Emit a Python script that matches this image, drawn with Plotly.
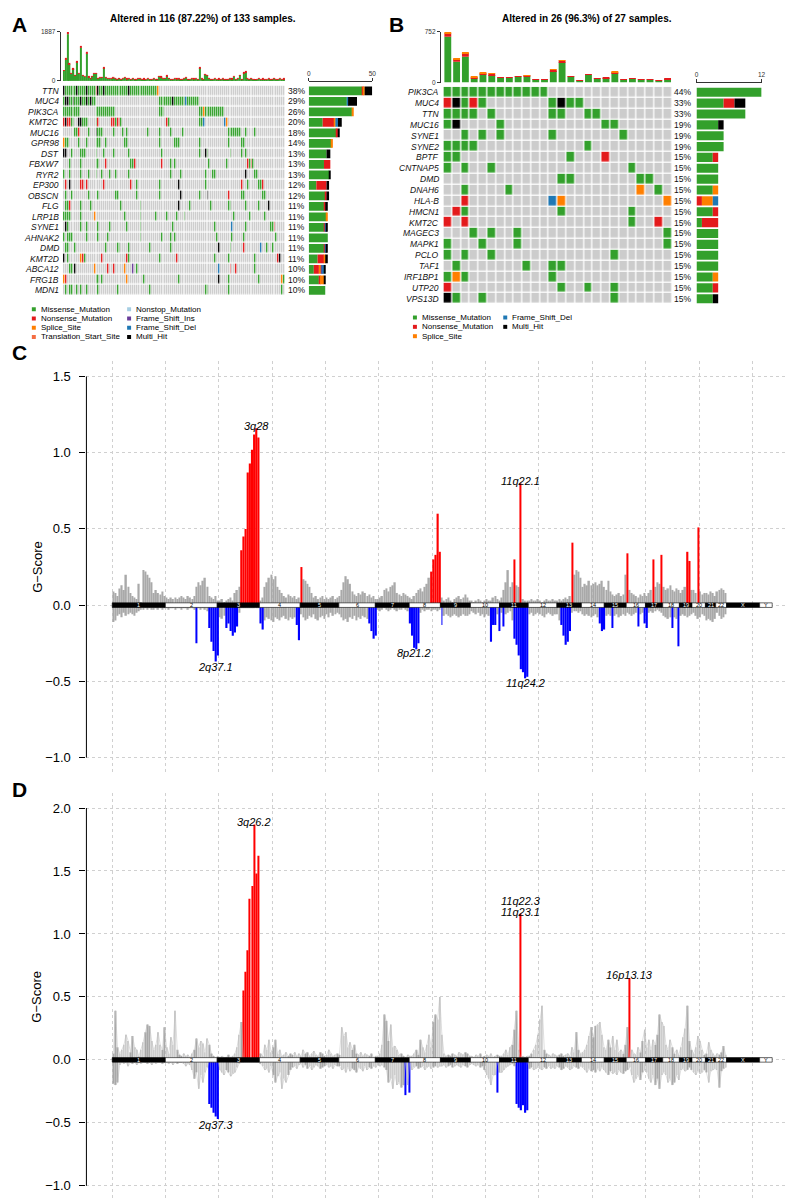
import plotly.graph_objects as go

W, H = 796, 1199
FONT = "Liberation Sans, Arial, sans-serif"
BG_CELL = "#CCCCCC"
GRAY = "#A9A9A9"

# maftools variant classes / colours
vc_names = ["Missense_Mutation", "Nonsense_Mutation", "Splice_Site", "Translation_Start_Site",
            "Nonstop_Mutation", "Frame_Shift_Ins", "Frame_Shift_Del", "Multi_Hit"]
vc_codes = "MNSTOIDH"
vc_colors = ["#33A02C", "#E31A1C", "#FF7F00", "#F46D43", "#A6CEE3", "#6A3D9A", "#1F78B4", "#000000"]

# ---------------- panel A : 116 altered of 133 ----------------
genes_A = ["TTN", "MUC4", "PIK3CA", "KMT2C", "MUC16", "GPR98", "DST", "FBXW7", "RYR2", "EP300",
           "OBSCN", "FLG", "LRP1B", "SYNE1", "AHNAK2", "DMD", "KMT2D", "ABCA12", "FRG1B", "MDN1"]
# columns mutated per gene ("a-b" range, trailing letter = class, default Missense)
muts_A = [
    "0H 1-6 7H 8-11 12H 13-16 17N 18H 19-20 21H 22-33 34H 35-48 49S",
    "0 1-2H 3-4 5H 6-8 9H 10-11 12H 13 14H 15-16 50-56 57H 58-63 64D 65-70",
    "0-8 17-26 50-52 71-72 73S 74-83",
    "0N 1H 2-3N 4-5 8-9H 10-12 17 18N 25-26N 27 28-29N 30 54N 55 71-72 73D 84D 85S",
    "6-7 8N 13 17H 18-20 26 31 33 44 50 56 62 86-92 95 100",
    "0S 1-2 8 12 17-19 22 32-33 50 58-60 71 86 93-94",
    "0-1H 4 9-11 17 21 26 34 51 71 74H 75 87 93 95",
    "3 9 17-18 22N 35-36 37N 51N 56 58 76 85 96N 97 98N 99",
    "0 3 9 13 17 20 24 27 34 56 61 74 78-79 95H 100-101",
    "1N 3H 9-10N 12N 21N 35N 38 50 60H 74 93N 96 102-103 104N",
    "1 4 13 18 27-28 38 50 61H 71 75H 86N 93-94 104-105",
    "1-2 3N 9 14 30 40 60H 66 77 86-87 95 102 107H",
    "0-3 9 16S 32 40 48 54 59 63 89 97 105",
    "1H 2 9 12 18 24 33 40 57 79 88D 95 108-109 110N",
    "0 2-4 12 18 23 40 51 56 58 80 88 94 111",
    "1-2 6 22 28-29 34 45 56 81H 87 94N 103D 106 109",
    "0H 2 9S 10N 11 20N 33N 34 50 59N 79 86 100 112N 113H",
    "3-4 6H 16S 23N 26N 32S 36I 38 81D 87N 90N 100",
    "0S 1N 17-18 20 33S 42 60 81H 86 102 114S 115",
    "1 3-4 7 9 12 18 28 45 74-75 86 114",
]
n_samples_A, n_cols_A = 133, 116
tmb_A_missense = [
    400, 830, 1800, 640, 275, 460, 218, 725, 275, 1280, 218, 156, 1060, 152, 104, 180, 275, 290, 104, 124, 142, 495, 133, 95, 85,
    80, 120, 95, 70, 110, 60, 85, 130, 75, 90, 65, 100, 70, 55, 80, 95, 60, 75, 50, 85, 70, 60, 90, 55, 65,
    170, 150, 80, 95, 190, 110, 70, 60, 85, 75, 100, 65, 55, 80, 120, 70, 60, 90, 75, 85, 65, 500, 95, 70, 245,
    220, 90, 70, 60, 85, 55, 75, 65, 80, 60, 70, 55, 90, 75, 155, 60, 85, 220, 70, 305, 340, 80, 65, 90, 55,
    70, 60, 85, 55, 75, 65, 50, 80, 60, 70, 95, 55, 65, 85, 60, 75]
tmb_A_nonsense = [
    20, 40, 87, 35, 15, 25, 12, 40, 15, 60, 12, 9, 60, 8, 6, 10, 15, 15, 6, 6, 8, 25, 7, 5, 5,
    4, 6, 5, 4, 6, 3, 5, 7, 4, 5, 3, 5, 4, 3, 4, 5, 3, 4, 3, 5, 4, 3, 5, 3, 4,
    9, 8, 4, 5, 10, 6, 4, 3, 5, 4, 5, 3, 3, 4, 6, 4, 3, 5, 4, 5, 3, 20, 5, 4, 10,
    10, 5, 4, 3, 5, 3, 4, 3, 4, 3, 4, 3, 5, 4, 5, 3, 5, 10, 4, 15, 15, 4, 3, 5, 3,
    4, 3, 5, 3, 4, 3, 3, 4, 3, 4, 5, 3, 3, 5, 3, 4]

# ---------------- panel B : 26 altered of 27 ----------------
genes_B = ["PIK3CA", "MUC4", "TTN", "MUC16", "SYNE1", "SYNE2", "BPTF", "CNTNAP5", "DMD", "DNAH6",
           "HLA-B", "HMCN1", "KMT2C", "MAGEC3", "MAPK1", "PCLO", "TAF1", "IRF1BP1", "UTP20", "VPS13D"]
muts_B = [
    "0-11", "0N 1H 2 3N 4 12 13H 14-15", "0-3 5 12-13 16-17", "0 1H 6 18-19", "2 4 6 12 20",
    "0-3 16", "0-1 14 18N", "0 2 5 21", "13-14 22-23", "2 7 22S 24",
    "2N 12D 13S 25S", "1N 2 13 21", "0N 2N 21 24N", "3 5 8 25", "0 4 8 25",
    "0 2 5 19", "1 9 12-13", "0 1S 2 12", "0N 13 16 19", "0H 1 4 19",
]
n_samples_B, n_cols_B = 27, 26
tmb_B_missense = [678, 310, 383, 64, 123, 113, 70, 70, 90, 95, 50, 50, 172, 300, 90, 35, 115, 60, 68, 138, 45, 58, 45, 45, 30, 52]
tmb_B_nonsense = [55, 40, 55, 20, 20, 20, 4, 4, 8, 15, 4, 4, 20, 28, 8, 4, 8, 4, 6, 20, 4, 6, 4, 4, 4, 7]
tmb_B_splice = [19, 9, 9, 4, 4, 5, 0, 0, 0, 3, 0, 0, 5, 6, 0, 0, 0, 0, 0, 4, 0, 0, 0, 0, 0, 0]

# ---------------- GISTIC G-scores, 10 Mb bins along chr1..chr22 ----------------
chrom_names = [str(i) for i in range(1, 23)] + ["X", "Y"]
chrom_len_mb = [249, 243, 198, 191, 181, 171, 159, 146, 141, 136, 135, 134, 115, 107, 103, 90, 81, 78, 59, 63, 48, 51, 155, 59]
BIN_MB = 10

C_amp = [
    0.09, 0.08, 0.06, 0.11, 0.13, 0.10, 0.20, 0.12, 0.08, 0.06, 0.05, 0.04, 0.14, 0.02, 0.23, 0.22, 0.20, 0.18, 0.15, 0.08, 0.10, 0.08, 0.07, 0.09, 0.06,
    0.05, 0.04, 0.05, 0.04, 0.05, 0.04, 0.05, 0.06, 0.05, 0.04, 0.06, 0.05, 0.04, 0.06, 0.12, 0.15, 0.13, 0.16, 0.18, 0.12, 0.06, 0.05, 0.04, 0.06, 0.03,
    0.03, 0.04, 0.02, 0.03, 0.04, 0.05, 0.03, 0.08, 0.10, 0.12, 0.36, 0.45, 0.50, 0.87, 0.93, 1.02, 1.12, 1.16, 1.10,
    0.03, 0.05, 0.12, 0.15, 0.18, 0.20, 0.17, 0.19, 0.12, 0.10, 0.08, 0.06, 0.05, 0.07, 0.06, 0.05, 0.06, 0.04, 0.05, 0.25,
    0.17, 0.16, 0.14, 0.12, 0.08, 0.05, 0.06, 0.04, 0.05, 0.06, 0.04, 0.05, 0.04, 0.05, 0.06, 0.04, 0.05,
    0.06, 0.10, 0.15, 0.19, 0.17, 0.14, 0.09, 0.07, 0.06, 0.08, 0.07, 0.09, 0.08, 0.06, 0.07, 0.05, 0.06, 0.04,
    0.04, 0.05, 0.06, 0.10, 0.11, 0.09, 0.12, 0.13, 0.15, 0.08, 0.07, 0.06, 0.08, 0.07, 0.06, 0.05,
    0.04, 0.06, 0.08, 0.10, 0.11, 0.09, 0.12, 0.14, 0.18, 0.22, 0.30, 0.33, 0.60, 0.35,
    0.05, 0.03, 0.04, 0.05, 0.03, 0.02, 0.04, 0.05, 0.06, 0.04, 0.05, 0.07, 0.05, 0.03,
    0.03, 0.02, 0.03, 0.04, 0.03, 0.02, 0.03, 0.04, 0.03, 0.03, 0.05, 0.06, 0.04, 0.03,
    0.05, 0.10, 0.15, 0.23, 0.12, 0.15, 0.30, 0.13, 0.12, 0.80, 0.04, 0.03, 0.03,
    0.03, 0.04, 0.03, 0.03, 0.04, 0.03, 0.02, 0.03, 0.04, 0.03, 0.03, 0.04, 0.03,
    0.03, 0.04, 0.03, 0.04, 0.05, 0.04, 0.06, 0.41, 0.20, 0.23, 0.22, 0.18,
    0.12, 0.14, 0.13, 0.16, 0.13, 0.14, 0.15, 0.13, 0.14, 0.16, 0.12,
    0.10, 0.16, 0.09, 0.07, 0.06, 0.07, 0.08, 0.06, 0.07, 0.20,
    0.34, 0.10, 0.08, 0.07, 0.06, 0.05, 0.07, 0.06, 0.08,
    0.06, 0.08, 0.10, 0.30, 0.12, 0.15, 0.14, 0.33,
    0.12, 0.10, 0.11, 0.13, 0.10, 0.09, 0.11, 0.10,
    0.08, 0.10, 0.12, 0.35, 0.29, 0.10,
    0.10, 0.08, 0.51, 0.09, 0.07, 0.08,
    0.08, 0.07, 0.09, 0.08, 0.06,
    0.09, 0.10, 0.11, 0.10, 0.08]
C_del = [
    -0.11, -0.10, -0.07, -0.06, -0.08, -0.05, -0.07, -0.06, -0.05, -0.06, -0.07, -0.05, -0.04, -0.03, -0.03, -0.02, -0.03, -0.02, -0.03, -0.03, -0.02, -0.03, -0.02, -0.03, -0.02,
    -0.02, -0.03, -0.02, -0.02, -0.03, -0.02, -0.02, -0.03, -0.02, -0.02, -0.03, -0.02, -0.02, -0.03, -0.25, -0.02, -0.03, -0.02, -0.03, -0.04, -0.15, -0.24, -0.30, -0.37, -0.33,
    -0.08, -0.09, -0.07, -0.15, -0.12, -0.17, -0.20, -0.18, -0.14, -0.05, -0.02, -0.02, -0.02, -0.02, -0.02, -0.02, -0.02, -0.02, -0.02,
    -0.12, -0.16, -0.10, -0.08, -0.09, -0.10, -0.11, -0.08, -0.09, -0.10, -0.08, -0.07, -0.09, -0.10, -0.08, -0.09, -0.08, -0.13, -0.23, -0.06,
    -0.08, -0.10, -0.09, -0.07, -0.08, -0.06, -0.09, -0.10, -0.08, -0.07, -0.09, -0.06, -0.08, -0.05, -0.07, -0.06, -0.05,
    -0.06, -0.08, -0.10, -0.09, -0.11, -0.08, -0.09, -0.07, -0.10, -0.08, -0.09, -0.07, -0.08, -0.09, -0.12, -0.17, -0.22, -0.20,
    -0.03, -0.04, -0.03, -0.02, -0.03, -0.04, -0.03, -0.02, -0.03, -0.04, -0.03, -0.03, -0.02, -0.03, -0.04, -0.12,
    -0.20, -0.28, -0.29, -0.25, -0.05, -0.03, -0.04, -0.03, -0.03, -0.04, -0.03, -0.03, -0.04, -0.03,
    -0.13, -0.07, -0.06, -0.07, -0.08, -0.07, -0.06, -0.07, -0.08, -0.07, -0.06, -0.07, -0.07, -0.06,
    -0.04, -0.05, -0.06, -0.05, -0.07, -0.06, -0.08, -0.06, -0.07, -0.24, -0.13, -0.13, -0.06, -0.17,
    -0.05, -0.14, -0.06, -0.05, -0.04, -0.10, -0.22, -0.26, -0.33, -0.42, -0.44, -0.48, -0.47,
    -0.06, -0.05, -0.07, -0.06, -0.05, -0.06, -0.07, -0.08, -0.06, -0.05, -0.06, -0.07, -0.06,
    -0.06, -0.10, -0.13, -0.20, -0.26, -0.24, -0.17, -0.05, -0.04, -0.04, -0.05, -0.04,
    -0.06, -0.07, -0.06, -0.07, -0.08, -0.07, -0.06, -0.08, -0.12, -0.17, -0.16,
    -0.07, -0.06, -0.07, -0.15, -0.07, -0.06, -0.08, -0.07, -0.06, -0.07,
    -0.05, -0.06, -0.07, -0.06, -0.05, -0.14, -0.06, -0.05, -0.12,
    -0.15, -0.05, -0.04, -0.05, -0.04, -0.03, -0.04, -0.05,
    -0.07, -0.08, -0.09, -0.08, -0.15, -0.08, -0.09, -0.27,
    -0.07, -0.06, -0.07, -0.08, -0.07, -0.06,
    -0.05, -0.07, -0.09, -0.08, -0.06, -0.07,
    -0.10, -0.09, -0.10, -0.11, -0.09,
    -0.05, -0.07, -0.09, -0.08, -0.06]
C_amp_peaks = [(60, 68), (88, 88), (149, 153), (188, 188), (191, 191), (215, 215), (241, 241),
               (253, 253), (257, 257), (269, 270), (274, 274)]
C_del_peaks = [(39, 39), (45, 49), (53, 58), (69, 70), (86, 87), (120, 123), (139, 143), (154, 154),
               (177, 179), (181, 181), (183, 183), (188, 194), (210, 214), (228, 230), (234, 234),
               (246, 246), (249, 250), (262, 262), (265, 265)]
C_labels = ["3q28", "11q22.1", "2q37.1", "8p21.2", "11q24.2"]
C_label_bins = [67, 191, 48, 141, 193]

D_amp = [
    0.05, 0.39, 0.10, 0.05, 0.08, 0.12, 0.20, 0.15, 0.06, 0.19, 0.10, 0.08, 0.03, 0.08, 0.14, 0.22, 0.28, 0.27, 0.15, 0.08, 0.12, 0.22, 0.12, 0.08, 0.26,
    0.10, 0.05, 0.18, 0.12, 0.39, 0.08, 0.04, 0.03, 0.05, 0.03, 0.04, 0.02, 0.05, 0.08, 0.17, 0.10, 0.15, 0.13, 0.06, 0.17, 0.12, 0.05, 0.03, 0.02, 0.03,
    0.02, 0.03, 0.02, 0.02, 0.04, 0.02, 0.03, 0.05, 0.10, 0.20, 0.30, 0.55, 0.70, 0.87, 1.28, 1.38, 1.87, 1.48, 1.62,
    0.05, 0.03, 0.12, 0.08, 0.16, 0.06, 0.10, 0.16, 0.05, 0.08, 0.03, 0.04, 0.06, 0.03, 0.05, 0.04, 0.06, 0.03, 0.05, 0.03,
    0.08, 0.05, 0.06, 0.03, 0.05, 0.07, 0.04, 0.03, 0.06, 0.05, 0.03, 0.04, 0.08, 0.05, 0.03, 0.04, 0.05,
    0.04, 0.26, 0.19, 0.22, 0.10, 0.14, 0.08, 0.12, 0.05, 0.04, 0.06, 0.03, 0.05, 0.04, 0.03, 0.05, 0.02, 0.03,
    0.03, 0.05, 0.12, 0.36, 0.31, 0.15, 0.28, 0.10, 0.11, 0.08, 0.04, 0.05, 0.03, 0.02, 0.04, 0.03,
    0.03, 0.05, 0.08, 0.04, 0.16, 0.10, 0.06, 0.12, 0.20, 0.10, 0.30, 0.36, 0.32, 0.50,
    0.20, 0.05, 0.03, 0.04, 0.03, 0.05, 0.04, 0.03, 0.06, 0.05, 0.04, 0.06, 0.05, 0.03,
    0.03, 0.02, 0.04, 0.03, 0.05, 0.02, 0.03, 0.04, 0.03, 0.05, 0.02, 0.03, 0.04, 0.03,
    0.03, 0.05, 0.08, 0.04, 0.10, 0.12, 0.24, 0.39, 0.08, 1.16, 0.03, 0.02, 0.03,
    0.03, 0.05, 0.08, 0.12, 0.20, 0.32, 0.43, 0.08, 0.05, 0.04, 0.03, 0.05, 0.04,
    0.03, 0.04, 0.05, 0.03, 0.04, 0.05, 0.03, 0.10, 0.06, 0.22, 0.08, 0.05,
    0.06, 0.08, 0.12, 0.19, 0.26, 0.18, 0.27, 0.28, 0.30, 0.20, 0.10,
    0.08, 0.16, 0.10, 0.19, 0.08, 0.16, 0.06, 0.08, 0.05, 0.12,
    0.26, 0.65, 0.08, 0.05, 0.04, 0.10, 0.06, 0.15, 0.24,
    0.10, 0.16, 0.08, 0.16, 0.12, 0.20, 0.36, 0.30,
    0.27, 0.12, 0.08, 0.16, 0.10, 0.05, 0.08, 0.04,
    0.10, 0.18, 0.25, 0.43, 0.15, 0.08,
    0.05, 0.10, 0.19, 0.15, 0.08, 0.04,
    0.05, 0.14, 0.08, 0.05, 0.03,
    0.05, 0.04, 0.06, 0.11, 0.04]
D_del = [
    -0.19, -0.20, -0.18, -0.04, -0.02, -0.03, -0.02, -0.05, -0.02, -0.03, -0.02, -0.04, -0.02, -0.03, -0.02, -0.02, -0.03, -0.02, -0.04, -0.02, -0.03, -0.02, -0.02, -0.03, -0.02,
    -0.02, -0.03, -0.02, -0.04, -0.02, -0.03, -0.02, -0.02, -0.03, -0.05, -0.03, -0.04, -0.08, -0.15, -0.10, -0.23, -0.12, -0.18, -0.10, -0.06, -0.35, -0.38, -0.42, -0.45, -0.47,
    -0.08, -0.10, -0.12, -0.08, -0.10, -0.13, -0.11, -0.10, -0.06, -0.03, -0.02, -0.02, -0.02, -0.02, -0.02, -0.02, -0.02, -0.02, -0.02,
    -0.03, -0.05, -0.08, -0.07, -0.10, -0.05, -0.12, -0.18, -0.13, -0.10, -0.23, -0.15, -0.18, -0.12, -0.08, -0.06, -0.05, -0.07, -0.04, -0.03,
    -0.06, -0.04, -0.07, -0.05, -0.08, -0.06, -0.04, -0.05, -0.07, -0.06, -0.05, -0.04, -0.06, -0.05, -0.07, -0.04, -0.05,
    -0.05, -0.08, -0.07, -0.10, -0.06, -0.09, -0.07, -0.08, -0.10, -0.06, -0.07, -0.09, -0.05, -0.08, -0.06, -0.07, -0.05, -0.06,
    -0.04, -0.05, -0.04, -0.06, -0.08, -0.18, -0.15, -0.23, -0.12, -0.20, -0.18, -0.22, -0.20, -0.28, -0.20, -0.26,
    -0.08, -0.06, -0.05, -0.07, -0.06, -0.05, -0.08, -0.06, -0.05, -0.07, -0.06, -0.05, -0.06, -0.05,
    -0.05, -0.04, -0.06, -0.05, -0.04, -0.06, -0.05, -0.04, -0.05, -0.06, -0.04, -0.05, -0.06, -0.04,
    -0.03, -0.04, -0.05, -0.04, -0.06, -0.05, -0.08, -0.12, -0.15, -0.20, -0.12, -0.12, -0.26, -0.10,
    -0.10, -0.08, -0.06, -0.05, -0.04, -0.03, -0.05, -0.35, -0.38, -0.40, -0.36, -0.42, -0.40,
    -0.07, -0.06, -0.08, -0.07, -0.06, -0.07, -0.08, -0.06, -0.07, -0.05, -0.07, -0.06, -0.07,
    -0.05, -0.06, -0.08, -0.07, -0.05, -0.06, -0.08, -0.07, -0.05, -0.06, -0.07, -0.05,
    -0.06, -0.08, -0.10, -0.07, -0.09, -0.08, -0.10, -0.07, -0.09, -0.06, -0.08,
    -0.10, -0.12, -0.09, -0.11, -0.10, -0.12, -0.08, -0.10, -0.11, -0.09,
    -0.08, -0.06, -0.12, -0.18, -0.15, -0.12, -0.16, -0.10, -0.08,
    -0.10, -0.15, -0.18, -0.12, -0.20, -0.15, -0.23, -0.12,
    -0.10, -0.12, -0.18, -0.15, -0.20, -0.18, -0.12, -0.16,
    -0.08, -0.07, -0.09, -0.08, -0.06, -0.08,
    -0.10, -0.12, -0.09, -0.11, -0.10, -0.08,
    -0.10, -0.18, -0.09, -0.08, -0.07,
    -0.08, -0.22, -0.09, -0.07, -0.06]
D_amp_peaks = [(61, 68), (191, 191), (242, 242)]
D_del_peaks = [(45, 49), (137, 137), (139, 139), (180, 180), (189, 194)]
D_labels = ["3q26.2", "11q22.3", "11q23.1", "16p13.13", "2q37.3"]
D_label_bins = [66, 191, 191, 242, 48]


def px(x):
    return x / W


def py(y):
    return 1 - y / H


def axkey(a):
    return a[0] + "axis" + a[1:]


def parse_row(spec, n):
    row = [0] * n
    for tok in spec.split():
        code = tok[-1] if tok[-1].isalpha() else "M"
        a, _, b = tok.rstrip(vc_codes).partition("-")
        for c in range(int(a), int(b or a) + 1):
            row[c] = vc_codes.index(code) + 1
    return row


cell_colors = [BG_CELL] + vc_colors
cscale = []
for i, c in enumerate(cell_colors):
    cscale += [[i / 9, c], [(i + 1) / 9, c]]

fig = go.Figure()
lay = {}
ann = []
shapes = []


def note(x, y, text, size, xanchor="center", **kw):
    # paper-positioned text, given in pixels
    ann.append(dict(x=px(x), y=py(y), xref="paper", yref="paper", text=text, showarrow=False,
                    xanchor=xanchor, yanchor="middle", font=dict(size=size, color="black"), **kw))


def add_oncoplot(genes, muts, n_cols, n_samples, tmb_parts, ids, g):
    xa, ya, xm, ym, xs = ids
    z = [parse_row(m, n_cols) for m in muts]
    cols = list(range(n_cols))
    rows = list(range(len(genes)))
    for vals, color in tmb_parts:
        fig.add_trace(go.Bar(x=cols, y=vals, marker=dict(color=color, line_width=0),
                             xaxis=xa, yaxis=ya, hoverinfo="skip"))
    tmb_max = max(sum(p[0][i] for p in tmb_parts) for i in cols)
    fig.add_trace(go.Heatmap(z=z, x=cols, y=rows, colorscale=cscale, zmin=-0.5, zmax=8.5,
                             showscale=False, xgap=g["xgap"], ygap=g["ygap"],
                             xaxis=xm, yaxis=ym, hoverinfo="skip"))
    for k, color in enumerate(vc_colors, start=1):
        counts = [r.count(k) for r in z]
        if any(counts):
            fig.add_trace(go.Bar(y=rows, x=counts, orientation="h", width=0.84,
                                 marker=dict(color=color, line_width=0),
                                 xaxis=xs, yaxis=ym, hoverinfo="skip"))
    top = g["row0"] - g["step"] / 2
    bot = g["row0"] + (len(genes) - 0.5) * g["step"]
    xdom = [px(g["mx0"]), px(g["mx1"])]
    tick = dict(ticks="outside", ticklen=3, tickwidth=0.8, tickcolor="#333", showline=True,
                linewidth=0.8, linecolor="#333", tickfont=dict(size=6.5, color="#333"),
                showgrid=False, zeroline=False)
    lay[axkey(xa)] = dict(domain=xdom, range=[-0.5, n_cols - 0.5], visible=False, anchor=ya)
    lay[axkey(ya)] = dict(domain=[py(g["tmb_bot"]), py(g["tmb_top"])], range=[0, tmb_max],
                          tickvals=[0, tmb_max], anchor="free", position=px(g["tmb_ax"]), **tick)
    lay[axkey(xm)] = dict(domain=xdom, range=[-0.5, n_cols - 0.5], visible=False, anchor=ym)
    lay[axkey(ym)] = dict(domain=[py(bot), py(top)], range=[len(genes) - 0.5, -0.5],
                          visible=False, anchor=xm)
    lay[axkey(xs)] = dict(domain=[px(g["sx0"]), px(g["sx1"])], range=[0, g["smax"]], side="top",
                          anchor="free", position=py(g["s_ax"]), tickvals=[0, g["smax"]], **tick)
    for i, gene in enumerate(genes):
        n_mut = sum(1 for v in z[i] if v)
        ann.append(dict(x=px(g["name_x"]), y=i, xref="paper", yref=ym, xanchor="right",
                        yanchor="middle", text=f"<i>{gene}</i>", showarrow=False,
                        font=dict(size=8.5, color="#111")))
        ann.append(dict(x=px(g["pct_x"]), y=i, xref="paper", yref=ym, xanchor="left",
                        yanchor="middle", text=f"{round(100 * n_mut / n_samples)}%", showarrow=False,
                        font=dict(size=8.5, color="#111")))
    note(g["title_x"], 7, g["title"], 10)
    note(g["letter_x"], 13, f"<b>{g['letter']}</b>", 21, xanchor="left")
    for sq_x, names in g["legend"]:
        for r, name in enumerate(names):
            yy = g["leg_y0"] + r * g["leg_dy"]
            shapes.append(dict(type="rect", xref="paper", yref="paper", x0=px(sq_x - 2), x1=px(sq_x + 2),
                               y0=py(yy + 2), y1=py(yy - 2), line_width=0,
                               fillcolor=vc_colors[vc_names.index(name)]))
            note(sq_x + 5, yy, name, 8, xanchor="left")


add_oncoplot(genes_A, muts_A, n_cols_A, n_samples_A,
             [(tmb_A_missense, vc_colors[0]), (tmb_A_nonsense, vc_colors[1])],
             ("x", "y", "x2", "y2", "x3"),
             dict(mx0=53.3, mx1=277, tmb_top=20, tmb_bot=69.3, tmb_ax=50, row0=79.3, step=10.56,
                  sx0=301, sx1=365, smax=50, s_ax=69.5, name_x=51, pct_x=278, xgap=0.6, ygap=1.3,
                  title="<b>Altered in 116 (87.22%) of 133 samples.</b>", title_x=194,
                  letter="A", letter_x=0,
                  legend=[(24, vc_names[:4]), (120, vc_names[4:])], leg_y0=299, leg_dy=9.3))
add_oncoplot(genes_B, muts_B, n_cols_B, n_samples_B,
             [(tmb_B_missense, vc_colors[0]), (tmb_B_nonsense, vc_colors[1]), (tmb_B_splice, vc_colors[2])],
             ("x4", "y4", "x5", "y5", "x6"),
             dict(mx0=436.7, mx1=667, tmb_top=20, tmb_bot=71, tmb_ax=433, row0=80.7, step=10.93,
                  sx0=691.7, sx1=757.3, smax=12, s_ax=70.5, name_x=434, pct_x=667.5, xgap=1.3, ygap=1.3,
                  title="<b>Altered in 26 (96.3%) of 27 samples.</b>", title_x=581,
                  letter="B", letter_x=380,
                  legend=[(408, vc_names[:3]), (499, ["Frame_Shift_Del", "Multi_Hit"])],
                  leg_y0=307.3, leg_dy=9.4))


# ---------------- GISTIC chromosome plots ----------------
chrom_start = []
acc = 0
for L in chrom_len_mb:
    chrom_start.append(acc)
    acc += L
genome_mb = acc


def add_gistic(amp, dele, amp_peaks, del_peaks, labels, label_bins, label_shift, xa, ya,
               top_px, bot_px, yr, yticks, dense, amp_solid, band_h, letter, letter_y):
    centers = [BIN_MB * i + BIN_MB / 2 for i in range(len(amp))]
    amp_sig = {i for a, b in amp_peaks for i in range(a, b + 1)}
    del_sig = {i for a, b in del_peaks for i in range(a, b + 1)}
    for vals, sig in ((amp, amp_sig), (dele, del_sig)):
        gray = [0 if i in sig else v for i, v in enumerate(vals)]
        if not dense:
            fig.add_trace(go.Scatter(x=centers, y=gray, mode="lines", line=dict(color="#BEBEBE", width=0.5),
                                     xaxis=xa, yaxis=ya, hoverinfo="skip"))
        fig.add_trace(go.Bar(x=centers, y=gray, width=7 if dense else 1.6,
                             marker=dict(color=GRAY if dense else "#A8A8A8", line_width=0),
                             xaxis=xa, yaxis=ya, hoverinfo="skip"))
    for vals, peaks, color, solid in ((amp, amp_peaks, "#FF0000", amp_solid), (dele, del_peaks, "#0000FF", True)):
        xs, ys, ws = [], [], []
        for a, b in peaks:
            for i in range(a, b + 1):
                xs.append(centers[i])
                ys.append(vals[i])
                ws.append(BIN_MB if (solid and b > a) else 4.5)
        fig.add_trace(go.Bar(x=xs, y=ys, width=ws, marker=dict(color=color, line_width=0),
                             xaxis=xa, yaxis=ya, hoverinfo="skip"))
    # chromosome band along zero
    for k, (name, s, L) in enumerate(zip(chrom_names, chrom_start, chrom_len_mb)):
        dark = k % 2 == 0
        shapes.append(dict(type="rect", xref=xa, yref=ya, x0=s, x1=s + L, y0=-band_h, y1=band_h,
                           fillcolor="black" if dark else "white", line=dict(color="black", width=0.6),
                           layer="above"))
        ann.append(dict(x=s + L / 2, y=0, xref=xa, yref=ya, text=name, showarrow=False,
                        font=dict(size=5.5, color="white" if dark else "black")))
    for text, b, sh in zip(labels, label_bins, label_shift):
        v = amp[b] if sh > 0 else dele[b]
        ann.append(dict(x=centers[b], y=v, xref=xa, yref=ya, text=f"<i>{text}</i>", showarrow=False,
                        yshift=sh, font=dict(size=11, color="black")))
    x0_px, x1_px = 77, 795
    scale = (768 - 103) / genome_mb
    lay[axkey(xa)] = dict(domain=[px(x0_px), px(x1_px)],
                          range=[(x0_px - 103) / scale, (x1_px - 103) / scale],
                          tickvals=list(range(0, 3001, 250)), showticklabels=False, ticks="",
                          showgrid=True, gridcolor="#D0D0D0", griddash="dot", gridwidth=1,
                          zeroline=False, showline=False, anchor=ya)
    lay[axkey(ya)] = dict(domain=[py(bot_px), py(top_px)], range=yr, tickvals=yticks,
                          ticktext=[f"{t:.1f}".replace("-", "\u2212") for t in yticks],
                          ticks="outside", ticklen=6, tickwidth=1, tickcolor="black",
                          ticklabelstandoff=6, tickfont=dict(size=13, color="black"),
                          showgrid=True, gridcolor="#D0D0D0", griddash="dot", gridwidth=1,
                          zeroline=False, showline=False, anchor=xa)
    shapes.append(dict(type="line", xref="paper", yref=ya, x0=px(x0_px), x1=px(x0_px),
                       y0=min(yticks), y1=max(yticks), line=dict(color="black", width=1)))
    note(27, (top_px + bot_px) / 2, "G\u2212Score", 13, textangle=-90)
    note(0, letter_y, f"<b>{letter}</b>", 21, xanchor="left")


add_gistic(C_amp, C_del, C_amp_peaks, C_del_peaks, C_labels, C_label_bins, [2, 2, -5, -5, -5],
           "x7", "y7", 351.3, 765.3, [-1.1, 1.6], [-1.0, -0.5, 0.0, 0.5, 1.0, 1.5],
           True, True, 0.015, "C", 342)
add_gistic(D_amp, D_del, D_amp_peaks, D_del_peaks, D_labels, D_label_bins, [2, 13, 2, 3, -8],
           "x8", "y8", 785.5, 1195.9, [-1.12, 2.12], [-1.0, -0.5, 0.0, 0.5, 1.0, 1.5, 2.0],
           False, False, 0.018, "D", 782)

fig.update_layout(width=W, height=H, margin=dict(l=0, r=0, t=0, b=0),
                  paper_bgcolor="white", plot_bgcolor="white", showlegend=False,
                  barmode="relative", bargap=0.22, font=dict(family=FONT, color="black"),
                  annotations=ann, shapes=shapes, **lay)
fig.write_html("out.html", config={"displayModeBar": False})
